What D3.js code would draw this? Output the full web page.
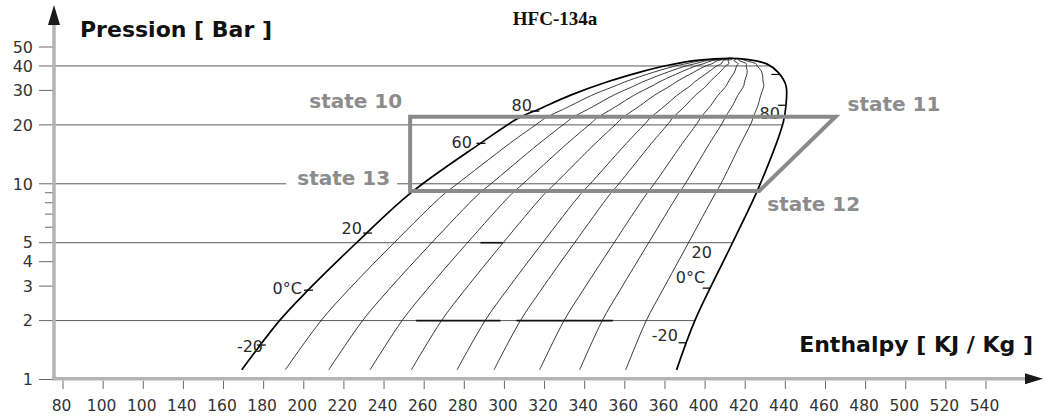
<!DOCTYPE html>
<html>
<head>
<meta charset="utf-8">
<script src="https://cdn.jsdelivr.net/npm/d3@7"></script>
<style>
  html, body { margin: 0; padding: 0; background: #fff; }
  svg { display: block; }
</style>
</head>
<body>
<svg id="chart" width="1044" height="417"></svg>
<script>
// R-134a pressure-enthalpy diagram: saturation dome, quality lines and a refrigeration cycle.

// Saturated liquid line (enthalpy kJ/kg, pressure bar), bottom up to the critical point
const liquidH = [169.1, 188.1, 202.1, 225.5, 252.9, 287.8, 306.8, 317.7, 332.7, 351.0, 367.6, 380.9, 395.8, 412.4];
const liquidP = [1.12, 2.01, 2.86, 4.91, 8.91, 16.04, 21.6, 24.2, 28.3, 33.1, 37.2, 40.2, 42.7, 43.8];

// Saturated vapour line, bottom up to the critical point
const vaporH = [385.8, 395.0, 413.3, 427.4, 439.0, 440.3, 440.3, 436.3, 430.7, 420.7, 412.4];
const vaporP = [1.12, 2.01, 4.91, 9.94, 20.7, 25.2, 31.8, 37.2, 41.0, 43.2, 43.8];

// Vapour quality of the lines drawn inside the dome
const qualities = [0.1, 0.2, 0.295, 0.39, 0.495, 0.58, 0.685, 0.777, 0.883];

// Axis ticks
const xTickValues = [80, 100, 120, 140, 160, 180, 200, 220, 240, 260, 280, 300, 320, 340, 360, 380, 400, 420, 440, 460, 480, 500, 520, 540];
const xTickLabels = ["80", "100", "100", "140", "160", "180", "200", "220", "240", "260", "280", "300", "320", "340", "360", "360", "400", "420", "440", "460", "480", "500", "520", "540"];
const yTickMajor = [1, 2, 3, 4, 5, 10, 20, 30, 40, 50];
const yTickMinor = [6, 7, 8, 9];
const gridPressures = [2, 5, 10, 20, 40];

// Refrigeration cycle states
const cycleStates = ["state 10", "state 11", "state 12", "state 13"];
const cycleH = [253, 465, 427, 253];
const cycleP = [22, 22, 9.2, 9.2];

// Saturation temperature labels (°C) with their anchor in h / P
const tempLabelText = ["-20", "0°C", "20", "60", "80", "-20", "0°C", "20", "80"];
const tempLabelH = [179.7, 199.1, 229.0, 283.8, 313.7, 386.5, 400.0, 403.4, 437.3];
const tempLabelP = [1.48, 2.93, 5.93, 16.3, 25.2, 1.69, 3.33, 4.47, 22.9];

// Temperature marks on the saturation lines (pressure, bar)
const liquidTickP = [1.50, 2.86, 5.6, 16.1, 23.5];
const vaporTickP = [1.54, 2.93, 25.2, 36.2];

// Heavy isobar segments (pressure, from h, to h)
const heavyP = [5, 2, 2];
const heavyH0 = [288, 256, 306];
const heavyH1 = [299, 298, 354];

const svg = d3.select("#chart");

const x = d3.scaleLinear().domain([80, 540]).range([63, 986]);
const y = d3.scaleLog().domain([1, 50]).range([379.5, 47]);

const axisX = 54;      // vertical axis position
const axisY = 378.7;   // horizontal axis position

// Enthalpy on a saturation line at pressure p (linear in log p between samples)
function satAt(hs, ps, p) {
  if (p <= ps[0]) return hs[0];
  for (let i = 0; i < ps.length - 1; i++) {
    if (p >= ps[i] && p <= ps[i + 1]) {
      const t = (Math.log(p) - Math.log(ps[i])) / (Math.log(ps[i + 1]) - Math.log(ps[i]));
      return hs[i] + t * (hs[i + 1] - hs[i]);
    }
  }
  return hs[hs.length - 1];
}

const smooth = d3.curveCatmullRom.alpha(0.5);
const hpLine = d3.line().x(d => x(d[0])).y(d => y(d[1])).curve(smooth);

// --- grid (isobars), ending on the vapour line
const grid = svg.append("g");
gridPressures.forEach(p => {
  grid.append("line")
    .attr("x1", axisX).attr("x2", x(satAt(vaporH, vaporP, p)))
    .attr("y1", y(p)).attr("y2", y(p))
    .attr("stroke", "#5a5a5a").attr("stroke-width", 1);
});

// heavy isobar segments
heavyP.forEach((p, i) => {
  svg.append("line")
    .attr("x1", x(heavyH0[i])).attr("x2", x(heavyH1[i]))
    .attr("y1", y(p)).attr("y2", y(p))
    .attr("stroke", "#111").attr("stroke-width", 1.6);
});

// --- quality lines
const levels = Array.from(new Set(liquidP.concat(vaporP))).sort((a, b) => a - b);
const qualityG = svg.append("g");
qualities.forEach(q => {
  const pts = levels.map(p => {
    const hl = satAt(liquidH, liquidP, p);
    const hg = satAt(vaporH, vaporP, p);
    return [hl + q * (hg - hl), p];
  });
  qualityG.append("path")
    .attr("d", hpLine(pts))
    .attr("fill", "none")
    .attr("stroke", "#222")
    .attr("stroke-width", 0.9);
});

// --- saturation dome
const domePts = liquidH.map((h, i) => [h, liquidP[i]])
  .concat(vaporH.slice(0, -1).map((h, i) => [h, vaporP[i]]).reverse());
svg.append("path")
  .attr("d", hpLine(domePts))
  .attr("fill", "none")
  .attr("stroke", "#000")
  .attr("stroke-width", 1.7);

// temperature marks on the dome
liquidTickP.forEach(p => {
  const cx = x(satAt(liquidH, liquidP, p));
  svg.append("line").attr("x1", cx - 4).attr("x2", cx + 5)
    .attr("y1", y(p)).attr("y2", y(p))
    .attr("stroke", "#000").attr("stroke-width", 1.2);
});
vaporTickP.forEach(p => {
  const cx = x(satAt(vaporH, vaporP, p));
  svg.append("line").attr("x1", cx - 8).attr("x2", cx)
    .attr("y1", y(p)).attr("y2", y(p))
    .attr("stroke", "#000").attr("stroke-width", 1.2);
});

// temperature labels
tempLabelText.forEach((t, i) => {
  svg.append("text")
    .attr("x", x(tempLabelH[i])).attr("y", y(tempLabelP[i]))
    .attr("dy", "0.36em")
    .attr("text-anchor", "end")
    .attr("font-family", "DejaVu Sans, sans-serif")
    .attr("font-size", 16)
    .attr("fill", "#2a2a2a")
    .text(t);
});

// --- axes
// vertical axis
svg.append("line")
  .attr("x1", axisX).attr("x2", axisX).attr("y1", 24).attr("y2", axisY + 1.5)
  .attr("stroke", "#b4b4b4").attr("stroke-width", 3.5);
svg.append("path")
  .attr("d", `M${axisX},5 L${axisX + 6},25 L${axisX - 6},25 Z`)
  .attr("fill", "#1a1a1a");

// horizontal axis
svg.append("line")
  .attr("x1", axisX - 1.5).attr("x2", 1026).attr("y1", axisY).attr("y2", axisY)
  .attr("stroke", "#b4b4b4").attr("stroke-width", 3.5);
svg.append("path")
  .attr("d", `M1043,${axisY} L1025,${axisY - 5.5} L1025,${axisY + 5.5} Z`)
  .attr("fill", "#1a1a1a");

// y ticks and labels
yTickMajor.forEach(p => {
  svg.append("line").attr("x1", 39).attr("x2", axisX - 1.5)
    .attr("y1", y(p)).attr("y2", y(p))
    .attr("stroke", "#6a6a6a").attr("stroke-width", 1);
  svg.append("text")
    .attr("x", 33).attr("y", y(p)).attr("dy", "0.36em")
    .attr("text-anchor", "end")
    .attr("font-family", "DejaVu Sans, sans-serif")
    .attr("font-size", 16)
    .attr("fill", "#333")
    .text(p);
});
yTickMinor.forEach(p => {
  svg.append("line").attr("x1", 45).attr("x2", axisX - 1.5)
    .attr("y1", y(p)).attr("y2", y(p))
    .attr("stroke", "#6a6a6a").attr("stroke-width", 1);
});

// x ticks and labels
xTickValues.forEach((v, i) => {
  svg.append("line").attr("x1", x(v)).attr("x2", x(v))
    .attr("y1", axisY + 2).attr("y2", 389)
    .attr("stroke", "#6a6a6a").attr("stroke-width", 1);
  svg.append("text")
    .attr("x", x(v) - 1.5).attr("y", 411)
    .attr("text-anchor", "middle")
    .attr("font-family", "DejaVu Sans, sans-serif")
    .attr("font-size", 15.5)
    .attr("fill", "#333")
    .text(xTickLabels[i]);
});

// axis titles and chart title
svg.append("text")
  .attr("x", 80).attr("y", 37)
  .attr("font-family", "DejaVu Sans, sans-serif")
  .attr("font-weight", "bold").attr("font-size", 22)
  .attr("fill", "#111")
  .text("Pression [ Bar ]");
svg.append("text")
  .attr("x", 1033).attr("y", 352)
  .attr("text-anchor", "end")
  .attr("font-family", "DejaVu Sans, sans-serif")
  .attr("font-weight", "bold").attr("font-size", 22)
  .attr("fill", "#111")
  .text("Enthalpy [ KJ / Kg ]");
svg.append("text")
  .attr("x", 555).attr("y", 25)
  .attr("text-anchor", "middle")
  .attr("font-family", "Liberation Serif, Times New Roman, serif")
  .attr("font-weight", "bold").attr("font-size", 19)
  .attr("fill", "#111")
  .text("HFC-134a");

// --- cycle
svg.append("path")
  .attr("d", d3.line().x(i => x(cycleH[i])).y(i => y(cycleP[i])).curve(d3.curveLinearClosed)(d3.range(cycleH.length)))
  .attr("fill", "none")
  .attr("stroke", "#8a8a8a")
  .attr("stroke-width", 4)
  .attr("stroke-linejoin", "miter");

// state labels, placed around their corner of the cycle
const stateLabelLayout = [
  { dx: -8, dy: -16, anchor: "end", knockout: false },
  { dx: 12, dy: -13, anchor: "start", knockout: false },
  { dx: 8, dy: 13, anchor: "start", knockout: false },
  { dx: -20, dy: -13, anchor: "end", knockout: true }
];
cycleStates.forEach((name, i) => {
  const L = stateLabelLayout[i];
  const g = svg.append("g");
  const t = g.append("text")
    .attr("x", x(cycleH[i]) + L.dx).attr("y", y(cycleP[i]) + L.dy)
    .attr("dy", "0.36em")
    .attr("text-anchor", L.anchor)
    .attr("font-family", "DejaVu Sans, sans-serif")
    .attr("font-weight", "bold").attr("font-size", 20)
    .attr("fill", "#8c8c8c")
    .text(name);
  if (L.knockout) {
    const b = t.node().getBBox();
    g.insert("rect", "text")
      .attr("x", b.x - 11).attr("y", b.y)
      .attr("width", b.width + 18).attr("height", b.height)
      .attr("fill", "#fff");
  }
});
</script>
</body>
</html>
